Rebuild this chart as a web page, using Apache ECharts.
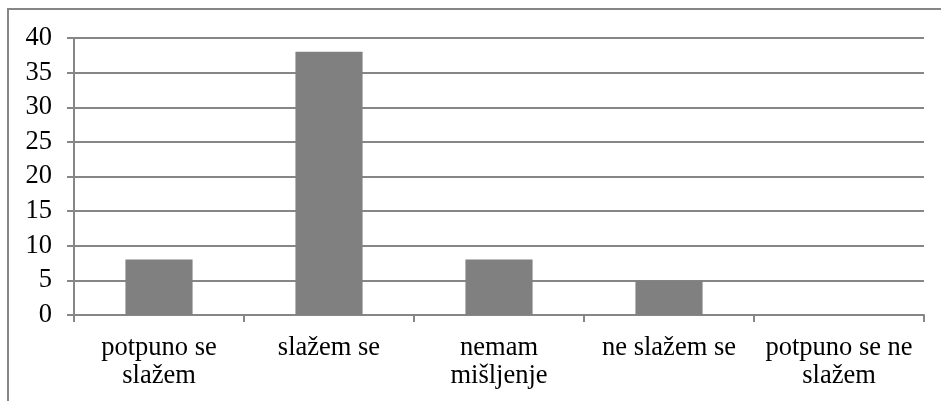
<!DOCTYPE html>
<html><head><meta charset="utf-8">
<script src="https://cdn.jsdelivr.net/npm/echarts@6/dist/echarts.min.js"></script>
<style>html,body{margin:0;padding:0;background:#fff}#c{width:941px;height:401px}</style>
</head><body><div id="c"></div>
<script>
var categories = ["potpuno se\nslažem", "slažem se", "nemam\nmišljenje", "ne slažem se", "potpuno se ne\nslažem"];
var values = [8, 38, 8, 5, 0];
var yTicks = {min: 0, max: 40, interval: 5};

var chart = echarts.init(document.getElementById('c'), null, {renderer: 'canvas'});
chart.setOption({
  animation: false,
  backgroundColor: '#fff',
  graphic: [{
    type: 'rect', shape: {x: 8, y: 9, width: 1000, height: 500},
    style: {fill: 'none', stroke: '#868686', lineWidth: 2}
  }],
  grid: {left: 74, right: 17, top: 38, bottom: 86, containLabel: false},
  xAxis: {
    type: 'category', data: categories,
    axisLine: {lineStyle: {color: '#868686', width: 2}},
    axisTick: {show: true, length: 7, lineStyle: {color: '#868686', width: 2}},
    axisLabel: {color: '#000', fontFamily: "'Liberation Serif', 'Times New Roman', serif", fontSize: 26.5, lineHeight: 28, margin: 19, interval: 0}
  },
  yAxis: {
    type: 'value', min: yTicks.min, max: yTicks.max, interval: yTicks.interval,
    axisLine: {show: true, lineStyle: {color: '#868686', width: 2}},
    axisTick: {show: true, length: 7, lineStyle: {color: '#868686', width: 2}},
    splitLine: {show: true, lineStyle: {color: '#868686', width: 2}},
    axisLabel: {color: '#000', fontFamily: "'Liberation Serif', 'Times New Roman', serif", fontSize: 26.5, margin: 22}
  },
  series: [{
    type: 'bar', data: values, barWidth: '39.5%',
    itemStyle: {color: '#808080'}
  }]
});
</script></body></html>
